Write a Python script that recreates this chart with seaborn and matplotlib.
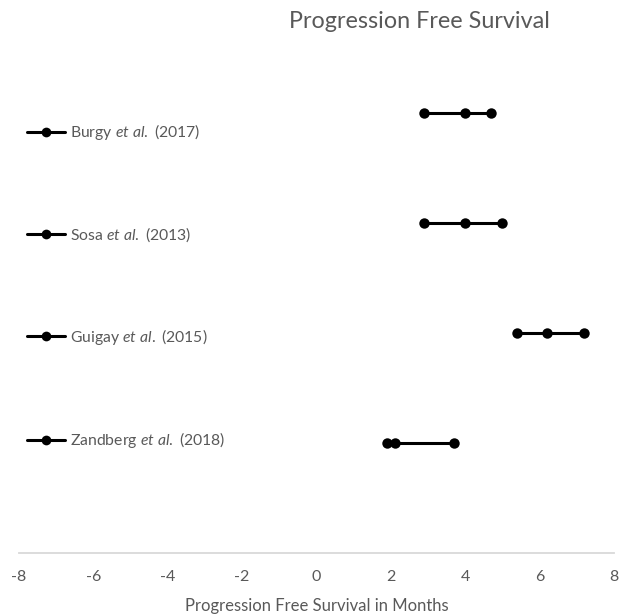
import numpy as np
import pandas as pd
import matplotlib
matplotlib.use("Agg")
import matplotlib.pyplot as plt
import seaborn as sns
from matplotlib.lines import Line2D

sns.set_style("white")
FONT = "Lato"
plt.rcParams["font.family"] = [FONT, "DejaVu Sans"]
plt.rcParams["mathtext.fontset"] = "custom"
plt.rcParams["mathtext.rm"] = FONT
plt.rcParams["mathtext.it"] = FONT + ":italic"

# Data
studies = ["Burgy", "Sosa", "Guigay", "Zandberg"]
years = ["2017", "2013", "2015", "2018"]
rows = [4, 3, 2, 1]
pfs_low = [2.9, 2.9, 5.4, 1.9]
pfs_mid = [4.0, 4.0, 6.2, 2.1]
pfs_high = [4.7, 5.0, 7.2, 3.7]
x_ticks = [-8, -6, -4, -2, 0, 2, 4, 6, 8]

labels = [f"{s} $\\it{{et\\ al.}}$ ({y})" for s, y in zip(studies, years)]

recs = []
for lab, r, a, b, c in zip(labels, rows, pfs_low, pfs_mid, pfs_high):
    for v in (a, b, c):
        recs.append({"study": lab, "pfs": v, "row": r})
df = pd.DataFrame(recs)

W, H = 628, 615
fig = plt.figure(figsize=(W / 100, H / 100), dpi=100)
ax = fig.add_axes([19 / W, (H - 553) / H, 595 / W, 550 / H])

grey = "#595959"
sns.lineplot(data=df, x="pfs", y="row", hue="study", palette=["black"] * 4,
             marker="o", markersize=7.5, linewidth=2.2, markeredgewidth=0,
             estimator=None, sort=False, legend=False, ax=ax)

ax.set_xlim(-8, 8)
ax.set_ylim(0, 5)
ax.set_xticks(x_ticks)
ax.set_xticklabels([str(t) for t in x_ticks], fontsize=11.5, color=grey)
ax.set_yticks([])
ax.set_ylabel("")
ax.set_xlabel("Progression Free Survival in Months", fontsize=12, color=grey, labelpad=10)
ax.tick_params(axis="x", length=0, pad=12)
for s in ["top", "right", "left"]:
    ax.spines[s].set_visible(False)
ax.spines["bottom"].set_color("#d9d9d9")
ax.spines["bottom"].set_linewidth(1.3)
ax.patch.set_alpha(0)

fig.text(419 / W, 1 - 21 / H, "Progression Free Survival", ha="center", va="center",
         fontsize=16.8, color=grey)

handles = [Line2D([0], [0], color="black", lw=2.2, marker="o", markersize=7,
                  markeredgewidth=0) for _ in labels]
leg = fig.legend(handles, labels, loc="upper left",
                 bbox_to_anchor=(27 / W, 1 - 122 / H), frameon=False,
                 fontsize=11.3, labelcolor=grey, handlelength=2.45,
                 handletextpad=0.3, labelspacing=5.3, borderpad=0,
                 borderaxespad=0)

fig.savefig("out.png", dpi=100, facecolor="white")
